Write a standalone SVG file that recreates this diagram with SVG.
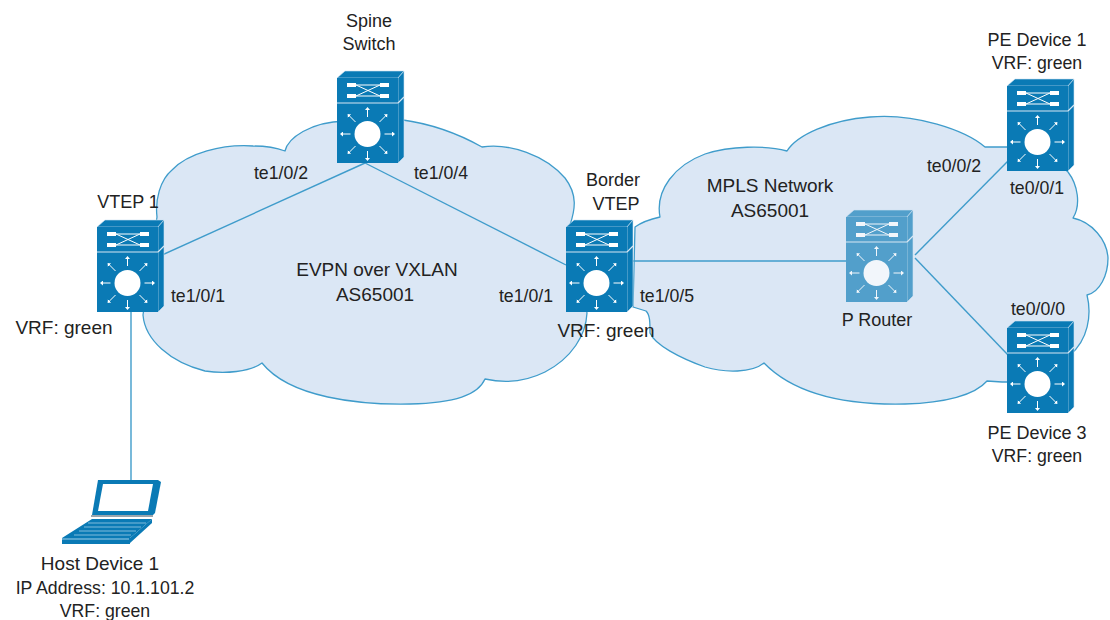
<svg xmlns="http://www.w3.org/2000/svg" width="1110" height="620" viewBox="0 0 1110 620">
<style>
.cloud{fill:#dbe7f5;stroke:#3f9ccb;stroke-width:1.3;stroke-linejoin:round}
.link{fill:none;stroke:#3f9ccb;stroke-width:1.4}
text{font-family:"Liberation Sans",Arial,sans-serif;fill:#222;text-anchor:middle}
.a{font-size:19px}.b{font-size:18px}.c{font-size:17.7px}
.wl{stroke:#fff;stroke-width:1;fill:none}
</style>
<defs>
<marker id="h" markerWidth="5" markerHeight="5" refX="1" refY="2.5" orient="auto" markerUnits="strokeWidth"><path d="M0,0L3,2.5L0,5Z" fill="#fff" transform="scale(1)"/></marker>
<symbol id="sw" overflow="visible" width="70" height="95" viewBox="0 0 70 95">
<g transform="translate(1,8)">
<path d="M0,0L8,-7H67L61,0Z" fill="#0a7ab5" stroke="#cfe3f2" stroke-width=".6"/>
<path d="M61,0L67,-7V79L61,85Z" fill="#0a7ab5" stroke="#cfe3f2" stroke-width=".6"/>
<rect width="61" height="85" fill="#0a7ab5"/>
<path d="M0,25H61M61,25L67,19" stroke="#d5e6f3" stroke-width="1.2" fill="none"/>
<rect x="10" y="5" width="9" height="4" fill="#fff"/><rect x="43" y="5" width="9" height="4" fill="#fff"/>
<rect x="10" y="16" width="9" height="4" fill="#fff"/><rect x="43" y="16" width="9" height="4" fill="#fff"/>
<path class="wl" d="M19,7H43M19,18H43M19,7L43,18M19,18L43,7" stroke-width=".8"/>
<circle cx="30.5" cy="56" r="13" fill="#fff"/>
<g class="wl" stroke-width="1.6" marker-end="url(#h)">
<path d="M30.5,39V31" marker-end="url(#h)"/><path d="M30.5,73V81" marker-end="url(#h)"/>
<path d="M13.5,56H5" marker-end="url(#h)"/><path d="M47.5,56H56" marker-end="url(#h)"/>
<path d="M18.5,44L12,37.500" marker-end="url(#h)"/><path d="M42.500,44L49,37.500" marker-end="url(#h)"/>
<path d="M18.5,68L12,74.500" marker-end="url(#h)"/><path d="M42.500,68L49,74.500" marker-end="url(#h)"/>
</g>
</g>
</symbol>
</defs>
<rect width="1110" height="620" fill="#fff"/>
<g id="clouds">
<path id="cloud-evpn" class="cloud" d="M157,217C155,200 160,180 172,170C188,153 222,144 253,146C265,146 277,148 285,151C288,138 310,122 345,121C370,115 425,115 482,147C510,143 545,155 565,178C578,195 575,210 570,225L587,313C586,335 572,358 545,372C525,382 503,383 485,379C478,395 455,403 410,404C360,405 290,398 262,363C250,372 225,374 205,371C170,362 145,340 143,315Z"/>
<path id="cloud-mpls" class="cloud" d="M635,227C642,222 651,219 660,217C655,190 675,165 705,154C730,146 765,145 787,151C797,135 830,120 870,117C915,113 965,130 985,147H1040L1068,172C1078,185 1081,205 1073,218C1092,222 1107,240 1108,258C1108,275 1100,292 1087,295C1092,315 1088,340 1070,355L1040,382H1002L987,381C975,395 945,403 905,404C860,405 800,400 764,363C752,373 725,373 705,367C680,358 655,345 650,333C650,322 650,315 646,311L633,307Z"/>
</g>
<g id="connectors">
<path class="link" d="M160,256L365,163"/>
<path class="link" d="M365,163L566,265"/>
<path class="link" d="M628,261H846"/>
<path class="link" d="M915,255L1008,161"/>
<path class="link" d="M915,258L1008,355"/>
<path class="link" d="M131,312V480"/>
</g>
<g id="vtep1"><use href="#sw" x="96" y="219" width="70" height="95"/><text class="b" x="128" y="208">VTEP 1</text><text class="a" x="64" y="334">VRF: green</text></g>
<g id="spine"><use href="#sw" x="336" y="70" width="70" height="95"/><text class="b" x="369" y="27">Spine</text><text class="b" x="369" y="50">Switch</text></g>
<g id="border"><use href="#sw" x="565" y="219" width="70" height="95"/><text class="b" x="613" y="186">Border</text><text class="b" x="616" y="210">VTEP</text><text class="a" x="606" y="337">VRF: green</text></g>
<g id="prouter"><use href="#sw" x="845" y="209" width="70" height="95" opacity=".65"/><text class="b" x="877" y="326">P Router</text></g>
<g id="pe1"><use href="#sw" x="1006" y="78" width="70" height="95"/><text class="b" x="1037" y="46">PE Device 1</text><text class="c" x="1037" y="69">VRF: green</text></g>
<g id="pe3"><use href="#sw" x="1006" y="320" width="70" height="95"/><text class="b" x="1037" y="439">PE Device 3</text><text class="c" x="1037" y="462">VRF: green</text></g>
<g id="host">
<path d="M98,480H158L161,482L155,513L153,515H92Z" fill="#0a7ab5"/>
<path d="M103,484H153L148,511H98Z" fill="#fff"/>
<path d="M91,515H153V517H91Z" fill="#9aa5ad"/>
<path d="M92,519H152L130,538V544H62V538Z" fill="#0a7ab5"/>
<path d="M62,538H130L152,519V523L130,543H62Z" fill="#0a7ab5"/>
<path d="M88,523H146M84,527H141M79,531H136M74,535H131" stroke="#7fbbdc" stroke-width="1" fill="none"/>
<path d="M62,539H129" stroke="#9fd0ea" stroke-width="1"/>
<text class="a" x="100" y="570">Host Device 1</text><text class="c" x="105" y="594">IP Address: 10.1.101.2</text><text class="c" x="105" y="617">VRF: green</text>
</g>
<g id="labels">
<text class="c" x="281" y="179">te1/0/2</text>
<text class="c" x="441" y="179">te1/0/4</text>
<text class="c" x="198" y="302">te1/0/1</text>
<text class="c" x="526" y="302">te1/0/1</text>
<text class="c" x="667" y="302">te1/0/5</text>
<text class="c" x="954" y="172">te0/0/2</text>
<text class="c" x="1037" y="194">te0/0/1</text>
<text class="c" x="1038" y="315">te0/0/0</text>
<text class="a" x="377" y="276">EVPN over VXLAN</text>
<text class="a" x="375" y="301">AS65001</text>
<text class="a" x="770" y="192">MPLS Network</text>
<text class="a" x="770" y="217">AS65001</text>
</g>
</svg>
